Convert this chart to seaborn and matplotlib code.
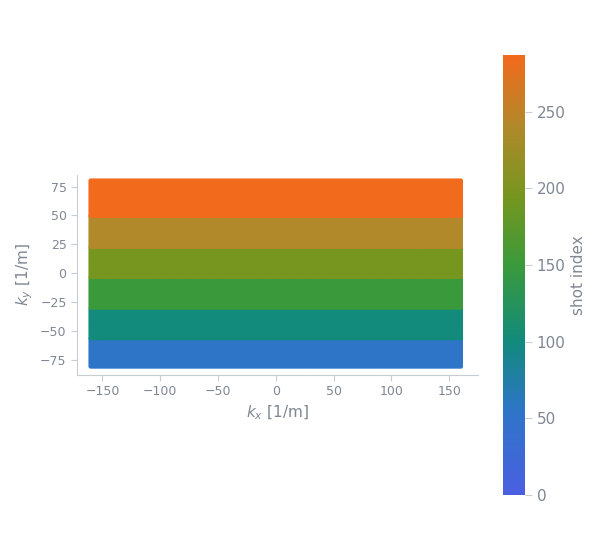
import numpy as np
import pandas as pd
import matplotlib
matplotlib.use("Agg")
import matplotlib.pyplot as plt
import seaborn as sns
from matplotlib.colors import LinearSegmentedColormap

# data
band_ky_low = [-80.5, -56.0, -29.5, -3.0, 23.0, 50.0]
band_ky_high = [-56.0, -29.5, -3.0, 23.0, 50.0, 80.5]
band_shot = [55, 100, 150, 195, 240, 287]
kx_min, kx_max = -160, 160
shot_max = 287

rows = []
kx = np.arange(kx_min, kx_max + 0.1, 2.0)
for lo, hi, s in zip(band_ky_low, band_ky_high, band_shot):
    for ky in np.arange(lo, hi + 0.01, 1.5):
        for x in kx:
            rows.append((x, ky, s))
df = pd.DataFrame(rows, columns=["kx", "ky", "shot"])

cmap = LinearSegmentedColormap.from_list("c", [
    (0.0, "#4a5fe0"), (55/287, "#2e75c8"), (100/287, "#128a7c"),
    (150/287, "#3a9a3b"), (195/287, "#76961f"), (240/287, "#b0892a"),
    (1.0, "#f26b1d")])

sns.set_style("white")
tc = "#7f8794"
plt.rcParams.update({"text.color": tc, "axes.labelcolor": tc,
                     "xtick.color": tc, "ytick.color": tc})
fig = plt.figure(figsize=(6.05, 5.5), dpi=100)
ax = fig.add_axes([77/605, 1-375/550, 401/605, 200/550])
cax = fig.add_axes([503/605, 1-495/550, 22/605, 440/550])
sns.scatterplot(data=df, x="kx", y="ky", hue="shot", palette=cmap,
                hue_norm=(0, shot_max), s=12, linewidth=0, legend=False, ax=ax)
ax.set_xlim(-172, 175)
ax.set_ylim(-88, 85)
ax.set_xticks([-150, -100, -50, 0, 50, 100, 150])
ax.set_yticks([-75, -50, -25, 0, 25, 50, 75])
ax.set_xlabel("$k_x$ [1/m]", fontsize=11)
ax.set_ylabel("$k_y$ [1/m]", fontsize=11)
ax.tick_params(labelsize=9, length=4, direction="out", bottom=True, left=True, color="#c8ccd4")
for s in ["top", "right"]:
    ax.spines[s].set_visible(False)
for s in ["left", "bottom"]:
    ax.spines[s].set_color("#c8ccd4")

sm = plt.cm.ScalarMappable(cmap=cmap, norm=plt.Normalize(0, shot_max))
cb = fig.colorbar(sm, cax=cax)
cb.outline.set_visible(False)
cb.set_ticks([0, 50, 100, 150, 200, 250])
cb.ax.tick_params(labelsize=11, length=5, color="#c8ccd4")
cb.set_label("shot index", fontsize=11)
fig.savefig("out.png", dpi=100)
